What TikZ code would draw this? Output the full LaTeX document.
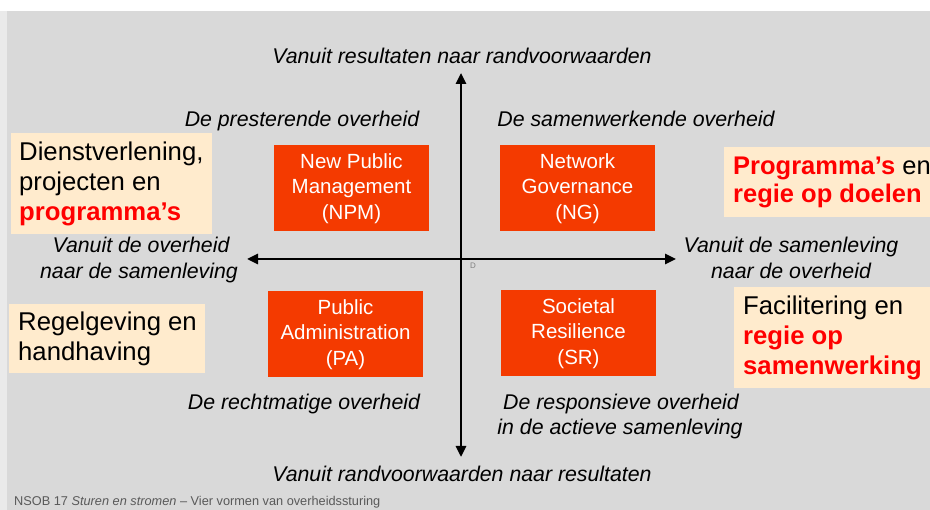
\documentclass[tikz,border=0pt]{standalone}
\usepackage{fontspec}
\setmainfont{Liberation Sans}
\usetikzlibrary{arrows.meta}
\definecolor{panel}{HTML}{D9D9D9}
\definecolor{strip}{HTML}{EAEAEA}
\definecolor{obox}{HTML}{F43A00}
\definecolor{beige}{HTML}{FFEBCD}
\definecolor{redtxt}{HTML}{FF0000}
\definecolor{foot}{HTML}{595959}
\tikzset{
  lab/.style={font=\fontsize{21.3}{25}\selectfont\itshape, inner sep=0, anchor=base},
  orangebox/.style={fill=obox, text=white, minimum width=155, minimum height=86, align=center, inner sep=0, font=\fontsize{20.5}{25.5}\selectfont},
  beigebox/.style={fill=beige, inner sep=0, anchor=north west},
  bigtext/.style={align=left, inner sep=0, anchor=west, font=\fontsize{25.7}{30}\selectfont},
  axis/.style={line width=2.6pt, {Triangle[length=11pt,width=10pt]}-{Triangle[length=11pt,width=10pt]}},
}
\begin{document}
\begin{tikzpicture}[x=1pt,y=-1pt]
\useasboundingbox (0,0) rectangle (930,510);
\fill[white] (0,0) rectangle (930,510);
\fill[strip] (0,11) rectangle (7,510);
\fill[panel] (7,11) rectangle (930,510);

% axes
\coordinate (top) at (461,73);
\coordinate (bottom) at (461,457);
\coordinate (left) at (247,259);
\coordinate (right) at (676,259);
\draw[axis] (bottom) -- (top);
\draw[axis] (left) -- (right);
\node[font=\fontsize{8}{9}\selectfont, text=gray, inner sep=0] (dmark) at (473,266) {D};

% axis labels
\node[lab] (ltop) at (462,64) {Vanuit resultaten naar randvoorwaarden};
\node[lab] (lbottom) at (462,482) {Vanuit randvoorwaarden naar resultaten};
\node[lab] (lleft1) at (141,253) {Vanuit de overheid};
\node[lab] (lleft2) at (139,279) {naar de samenleving};
\node[lab] (lright1) at (791,253) {Vanuit de samenleving};
\node[lab] (lright2) at (791,279) {naar de overheid};

% quadrant labels
\node[lab] (q1) at (302,127) {De presterende overheid};
\node[lab] (q2) at (636,127) {De samenwerkende overheid};
\node[lab] (q3) at (304,410) {De rechtmatige overheid};
\node[lab] (q4a) at (621,410) {De responsieve overheid};
\node[lab] (q4b) at (620,435) {in de actieve samenleving};

% orange boxes
\node[orangebox] (npm) at (351.5,188.5) {New Public\\Management\\(NPM)};
\node[orangebox] (ng) at (577.5,188.5) {Network\\Governance\\(NG)};
\node[orangebox] (pa) at (345.5,334.5) {Public\\Administration\\(PA)};
\node[orangebox] (sr) at (578.5,333.5) {Societal\\Resilience\\(SR)};

% beige boxes
\node[beigebox, minimum width=201, minimum height=101] (b1) at (11,133) {};
\node[bigtext] (t1) at ([xshift=8]b1.west) {Dienstverlening,\\projecten en\\\textcolor{redtxt}{\bfseries programma’s}};
\node[beigebox, minimum width=196, minimum height=69] (b2) at (9,304) {};
\node[bigtext] (t2) at ([xshift=9]b2.west) {Regelgeving en\\handhaving};
\node[beigebox, minimum width=206, minimum height=70] (b3) at (724,147) {};
\node[bigtext, font=\fontsize{25.5}{28.5}\selectfont] (t3) at ([xshift=9]b3.west) {\textcolor{redtxt}{\bfseries Programma’s} en\\\textcolor{redtxt}{\bfseries regie op doelen}};
\node[beigebox, minimum width=196, minimum height=101] (b4) at (734,287) {};
\node[bigtext] (t4) at ([xshift=9]b4.west) {Facilitering en\\\textcolor{redtxt}{\bfseries regie op}\\\textcolor{redtxt}{\bfseries samenwerking}};

% footer
\node[font=\fontsize{12.75}{15}\selectfont, text=foot, inner sep=0, anchor=base west] (footer) at (14,506) {NSOB 17 \textit{Sturen en stromen} – Vier vormen van overheidssturing};
\end{tikzpicture}
\end{document}
